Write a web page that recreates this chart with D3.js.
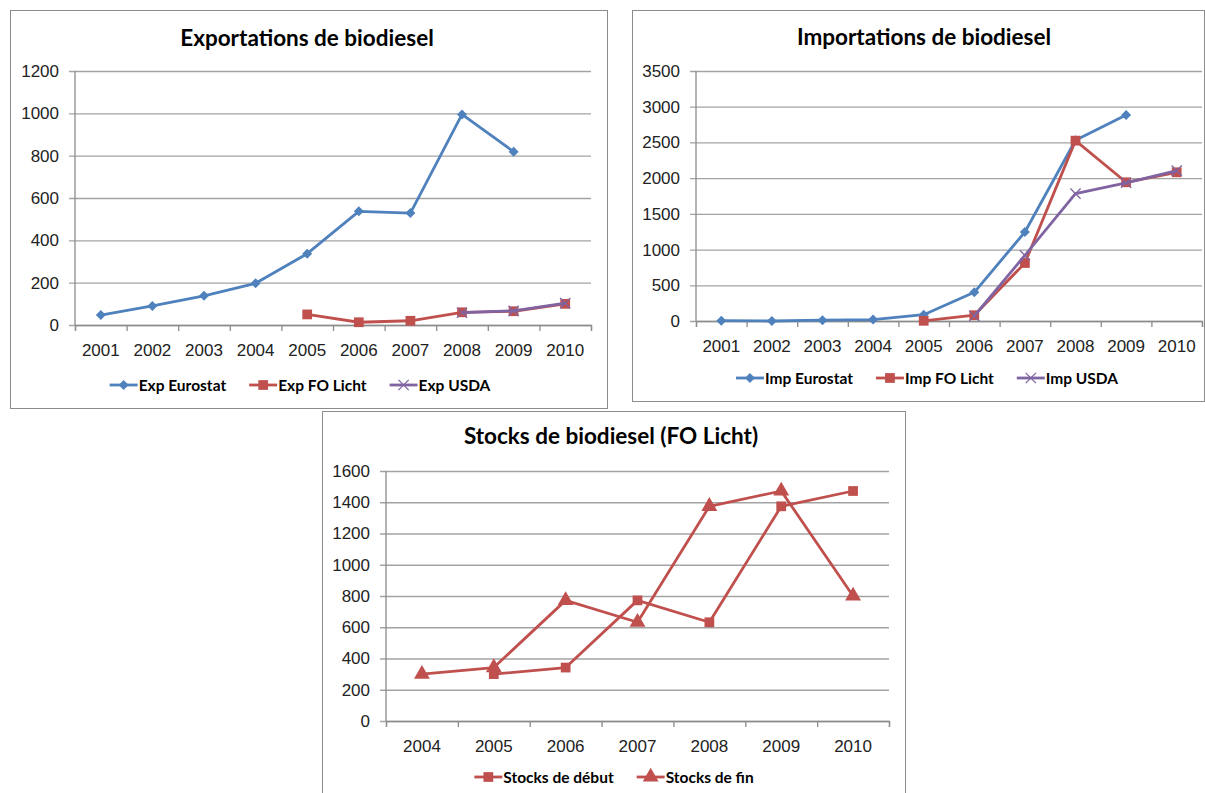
<!DOCTYPE html>
<html>
<head>
<meta charset="utf-8">
<script src="https://cdn.jsdelivr.net/npm/d3@7"></script>
<style>
  body { margin: 0; background: #fff; }
  svg { display: block; font-family: Lato, "Open Sans", sans-serif; }
</style>
</head>
<body>
<script>
// data
var years10 = ["2001","2002","2003","2004","2005","2006","2007","2008","2009","2010"];
var years7 = ["2004","2005","2006","2007","2008","2009","2010"];

var expEurostat = [47, 90, 138, 197, 337, 537, 529, 995, 819, null];
var expFOLicht  = [null, null, null, null, 50, 13, 20, 60, 65, 100];
var expUSDA     = [null, null, null, null, null, null, null, 58, 67, 103];
var expTicks    = [0, 200, 400, 600, 800, 1000, 1200];

var impEurostat = [5, 0, 12, 20, 88, 402, 1246, 2530, 2884, null];
var impFOLicht  = [null, null, null, null, 3, 81, 812, 2525, 1942, 2082];
var impUSDA     = [null, null, null, null, null, 70, 920, 1783, 1935, 2105];
var impTicks    = [0, 500, 1000, 1500, 2000, 2500, 3000, 3500];

var stocksDebut = [null, 300, 342, 772, 632, 1374, 1472];
var stocksFin   = [300, 342, 772, 632, 1374, 1472, 800];
var stockTicks  = [0, 200, 400, 600, 800, 1000, 1200, 1400, 1600];

var blue = "#4f81bd", red = "#c0504d", purple = "#8064a2";

var svg = d3.select("body").append("svg")
    .attr("width", 1205)
    .attr("height", 793);

function marker(sel, s) {
  sel.attr("d", d3.symbol().type(s.symbol).size(s.size))
    .attr("fill", s.symbol === d3.symbolX ? "none" : s.color)
    .attr("stroke", s.color)
    .attr("stroke-width", s.symbol === d3.symbolX ? 1.3 : 0);
}

function drawChart(c) {
  var g = svg.append("g");

  g.append("rect")
    .attr("x", c.box[0] + 0.5).attr("y", c.box[1] + 0.5)
    .attr("width", c.box[2] - c.box[0]).attr("height", c.box[3] - c.box[1])
    .attr("fill", "#fff").attr("stroke", "#8c8c8c").attr("stroke-width", 1);

  g.append("text")
    .attr("x", c.titleX).attr("y", c.titleY)
    .attr("text-anchor", "middle")
    .style("font-size", "22.5px").style("font-weight", "bold")
    .text(c.title);

  var w = c.right - c.left, h = c.bottom - c.top;
  var plot = g.append("g").attr("transform", "translate(" + c.left + "," + c.top + ")");

  var x = d3.scaleBand().domain(c.cats).range([0, w]).padding(0);
  var y = d3.scaleLinear().domain([0, d3.max(c.ticks)]).range([h, 0]);

  // gridlines + y labels
  var ya = plot.append("g")
    .call(d3.axisLeft(y).tickValues(c.ticks).tickFormat(d3.format("d"))
      .tickSize(-w).tickPadding(16));
  ya.select(".domain").remove();
  ya.selectAll("line").attr("x1", -6).attr("stroke", "#a3a3a3").attr("stroke-width", 1.3);
  ya.selectAll("text").style("font-size", "17px").attr("fill", "#222").attr("font-family", null);

  plot.append("line")
    .attr("x1", 0).attr("x2", 0).attr("y1", 0).attr("y2", h)
    .attr("stroke", "#8c8c8c").attr("stroke-width", 1.3);

  // x axis: ticks at boundaries, labels centred
  var xb = d3.scaleLinear().domain([0, c.cats.length]).range([0, w]);
  var xt = plot.append("g").attr("transform", "translate(0," + h + ")")
    .call(d3.axisBottom(xb).ticks(c.cats.length).tickFormat("").tickSize(6).tickSizeOuter(6));
  xt.select(".domain").attr("stroke", "#8c8c8c").attr("stroke-width", 1.3);
  xt.selectAll("line").attr("stroke", "#8c8c8c").attr("stroke-width", 1.3);

  var xl = plot.append("g").attr("transform", "translate(0," + h + ")")
    .call(d3.axisBottom(x).tickSize(0).tickPadding(19));
  xl.select(".domain").remove();
  xl.selectAll("text").style("font-size", "17px").attr("fill", "#222").attr("font-family", null);

  var cx = function(i) { return x(c.cats[i]) + x.bandwidth() / 2; };

  c.series.forEach(function(s) {
    var pts = s.values.map(function(v, i) { return { i: i, v: v }; });
    var line = d3.line()
      .defined(function(d) { return d.v != null; })
      .x(function(d) { return cx(d.i); })
      .y(function(d) { return y(d.v); });
    plot.append("path")
      .attr("d", line(pts))
      .attr("fill", "none").attr("stroke", s.color).attr("stroke-width", 2.8)
      .attr("stroke-linejoin", "round");
    plot.selectAll(null)
      .data(pts.filter(function(d) { return d.v != null; }))
      .enter().append("path")
      .attr("transform", function(d) {
        return "translate(" + cx(d.i) + "," + y(d.v) + ")" + (s.rot ? " rotate(45)" : "");
      })
      .call(marker, s);
  });

  // legend, centred on the box
  var lg = g.append("g");
  var xpos = 0;
  c.series.forEach(function(s) {
    var it = lg.append("g").attr("transform", "translate(" + xpos + ",0)");
    it.append("line").attr("x1", 0).attr("x2", 28).attr("y1", 0).attr("y2", 0)
      .attr("stroke", s.color).attr("stroke-width", 2.8);
    it.append("path")
      .attr("transform", "translate(14,0)" + (s.rot ? " rotate(45)" : ""))
      .call(marker, s);
    var t = it.append("text").attr("x", 29).attr("y", 5.5)
      .style("font-size", "15.5px").style("font-weight", "bold")
      .text(s.name);
    xpos += 29 + t.node().getComputedTextLength() + 23;
  });
  var lw = xpos - 23;
  lg.attr("transform", "translate(" + (c.legendX - lw / 2) + "," + c.legendY + ")");
}

drawChart({
  box: [10, 10, 607, 408], left: 75, right: 591, top: 71, bottom: 325,
  title: "Exportations de biodiesel", titleX: 307, titleY: 46,
  cats: years10, ticks: expTicks,
  legendX: 300, legendY: 385,
  series: [
    { name: "Exp Eurostat", values: expEurostat, color: blue, symbol: d3.symbolSquare, size: 50, rot: true },
    { name: "Exp FO Licht", values: expFOLicht, color: red, symbol: d3.symbolSquare, size: 95 },
    { name: "Exp USDA", values: expUSDA, color: purple, symbol: d3.symbolX, size: 70 }
  ]
});

drawChart({
  box: [632, 10, 1204, 401], left: 696, right: 1202, top: 71, bottom: 321,
  title: "Importations de biodiesel", titleX: 924, titleY: 45,
  cats: years10, ticks: impTicks,
  legendX: 927, legendY: 378,
  series: [
    { name: "Imp Eurostat", values: impEurostat, color: blue, symbol: d3.symbolSquare, size: 50, rot: true },
    { name: "Imp FO Licht", values: impFOLicht, color: red, symbol: d3.symbolSquare, size: 95 },
    { name: "Imp USDA", values: impUSDA, color: purple, symbol: d3.symbolX, size: 70 }
  ]
});

drawChart({
  box: [322, 411, 905, 800], left: 386, right: 889, top: 471, bottom: 721,
  title: "Stocks de biodiesel (FO Licht)", titleX: 611, titleY: 444,
  cats: years7, ticks: stockTicks,
  legendX: 614, legendY: 777,
  series: [
    { name: "Stocks de début", values: stocksDebut, color: red, symbol: d3.symbolSquare, size: 95 },
    { name: "Stocks de fin", values: stocksFin, color: red, symbol: d3.symbolTriangle, size: 110 }
  ]
});
</script>
</body>
</html>
